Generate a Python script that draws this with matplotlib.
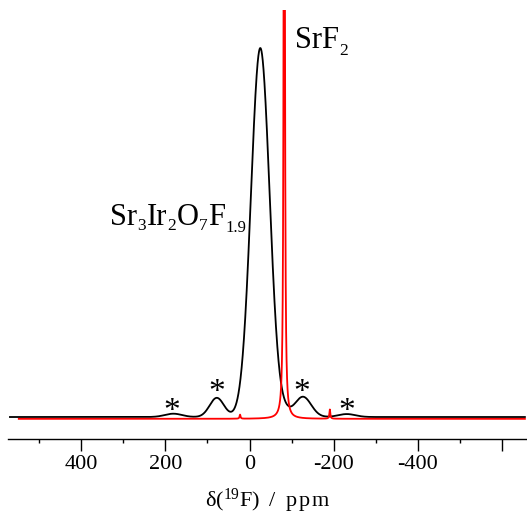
import numpy as np
import matplotlib
matplotlib.use("Agg")
import matplotlib.pyplot as plt
from matplotlib.transforms import ScaledTranslation

plt.rcParams['font.family'] = ['Liberation Serif', 'DejaVu Serif']
plt.rcParams['mathtext.fontset'] = 'custom'
plt.rcParams['mathtext.rm'] = 'Liberation Serif'
plt.rcParams['mathtext.it'] = 'Liberation Serif:italic'
plt.rcParams['mathtext.bf'] = 'Liberation Serif:bold'

# ---- data (ppm, normalised intensity) ----
# Sr3Ir2O7F1.9 spectrum (black): gaussian components
black_centers = [-25.6, 77.7, -126.8, 181.0, -231.0, -84.0]
black_heights = [1.0, 0.052, 0.055, 0.009, 0.008, 0.010]
black_fwhm = [52.0, 40.0, 46.0, 48.0, 48.0, 30.0]
black_range = [569.0, -654.0]
black_offset = 0.0

# SrF2 spectrum (red): lorentzian components
red_centers = [-82.5, 22.5, -190.8]
red_heights = [3.0, 0.011, 0.025]
red_hwhm = [1.3, 1.3, 1.3]
red_range = [548.0, -654.0]
red_offset = -0.005

# asterisks marking spinning sidebands (ppm, baseline height)
star_ppm = [183.6, 77.0, -124.0, -231.0]
star_y = [-0.008, 0.043, 0.043, -0.008]

major_ticks = [600, 400, 200, 0, -200, -400, -600]
major_labels = ['', '400', '200', '0', '-200', '-400', '']
minor_ticks = [500, 300, 100, -100, -300, -500]

# label pieces: (text, fontsize, vertical shift in points)
label_srf2 = [('SrF', 22, 0), ('2', 12.5, -5)]
label_sample = [('Sr', 22, 0), ('3', 12.5, -3.5), ('Ir', 22, 0), ('2', 12.5, -3.5),
                ('O', 22, 0), ('7', 12.5, -3.5), ('F', 22, 0), ('1.9', 12, -5)]


def black_curve(x):
    y = np.full_like(x, black_offset)
    for c, h, w in zip(black_centers, black_heights, black_fwhm):
        s = w / 2.3548
        y += h * np.exp(-0.5 * ((x - c) / s) ** 2)
    return y


def red_curve(x):
    y = np.full_like(x, red_offset)
    for c, h, g in zip(red_centers, red_heights, red_hwhm):
        y += h * g ** 2 / (g ** 2 + (x - c) ** 2)
    return y


fig = plt.figure(figsize=(5.27, 5.14), dpi=100)
ax = fig.add_axes([8 / 527, 75 / 514, 1 - 8 / 527, 429 / 514])
renderer = fig.canvas.get_renderer()


def rich_text(x, y, parts):
    off = 0.0
    for s, size, dy in parts:
        tr = ax.transData + ScaledTranslation(off / 72, dy / 72, fig.dpi_scale_trans)
        t = ax.text(x, y, s, fontsize=size, ha='left', va='baseline', transform=tr)
        bb = t.get_window_extent(renderer)
        off += bb.width * 72 / fig.dpi + 0.3


xb = np.linspace(black_range[0], black_range[1], 6000)
xr = np.linspace(red_range[0], red_range[1], 6000)
ax.plot(xb, black_curve(xb), color='black', lw=1.3)
ax.plot(xr, red_curve(xr), color='#ff0000', lw=1.3)

for s in ['top', 'left', 'right']:
    ax.spines[s].set_visible(False)
ax.spines['bottom'].set_linewidth(1.0)
ax.set_yticks([])
ax.set_xticks(major_ticks)
ax.set_xticklabels(major_labels)
ax.set_xticks(minor_ticks, minor=True)
ax.tick_params(axis='x', which='major', direction='out', length=8.6, width=1.0,
               labelsize=16, pad=3)
ax.tick_params(axis='x', which='minor', direction='out', length=3.2, width=1.0)

ax.set_xlim(573.6, -659.0)
ax.set_ylim(-0.0596, 1.103)

for xp, yp in zip(star_ppm, star_y):
    ax.text(xp, yp, '*', fontsize=24, ha='center', va='baseline')

rich_text(-108, 1.0, label_srf2)
rich_text(331.0, 0.52, label_sample)

fig.text(267.5 / 527, 7 / 514, 'δ($^{19}$F)\u2009 /\u2009 p\u200ap\u200am', fontsize=16,
         ha='center', va='baseline')

fig.savefig('out.png', dpi=100)
